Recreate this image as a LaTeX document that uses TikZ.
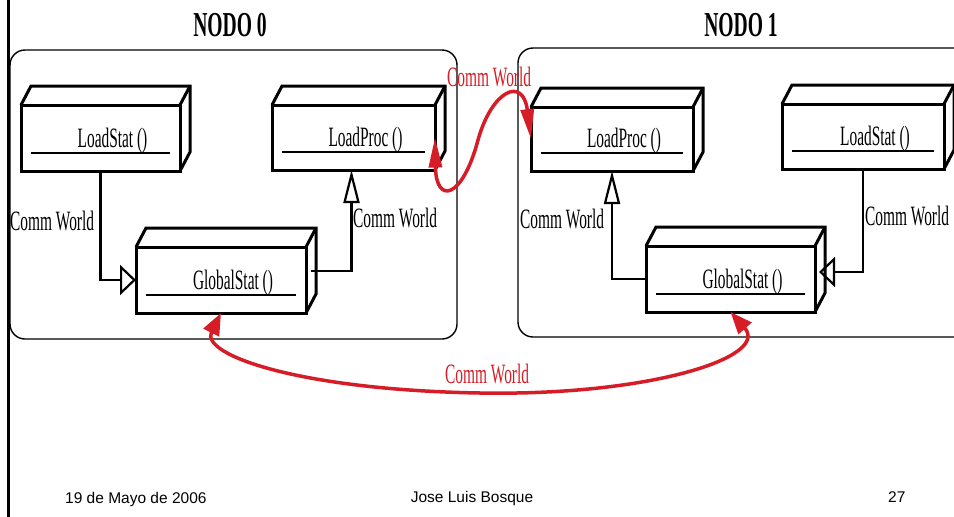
\documentclass[tikz,border=0pt]{standalone}
\usepackage{fontspec}
\setmainfont{Liberation Serif}
\newfontfamily\condfont[FakeStretch=0.55]{Liberation Serif}
\newfontfamily\titlefont[FakeStretch=0.56]{Liberation Serif}
\newfontfamily\footfont{Liberation Sans}
\usetikzlibrary{arrows.meta,calc}
\definecolor{redline}{RGB}{214,28,38}
\tikzset{
  boxfront/.style={draw, line width=3pt, inner sep=0pt, outer sep=0pt, fill=white},
  boxedge/.style={line width=3pt, line join=miter},
  uline/.style={line width=1.2pt},
  boxtext/.style={font=\condfont\fontsize{28}{30}\selectfont, inner sep=0pt, anchor=base},
  lbl/.style={font=\condfont\fontsize{28}{30}\selectfont, inner sep=0pt, anchor=base west},
  redlbl/.style={lbl, text=redline},
  titletext/.style={font=\titlefont\bfseries\fontsize{35}{38}\selectfont, inner sep=0pt, anchor=base},
  foot/.style={font=\footfont\fontsize{15.5}{17}\selectfont, inner sep=0pt, anchor=base west},
  panel/.style={draw, line width=1.4pt, rounded corners=15pt},
  conn/.style={line width=2.2pt},
  harrow/.style={conn, -{Triangle[open,length=16pt,width=30pt]}},
  varrow/.style={conn, -{Triangle[open,length=33pt,width=16pt]}},
  redconn/.style={draw=redline, line width=3.5pt},
  redtop/.style={redconn, {Triangle[length=30pt,width=13pt]}-{Triangle[length=30pt,width=13pt]}},
  redbot/.style={redconn, {Triangle[length=22pt,width=17pt]}-{Triangle[length=22pt,width=17pt]}},
}
\newcommand\mkbox[6]{%
  \node[boxfront, minimum width={(#4-#2)*1pt}, minimum height={(#5-#3)*1pt}] (#1) at ({(#2+#4)/2},{(#3+#5)/2}) {};
  \draw[boxedge] (#1.north west) -- ++(10,-19) -- ($(#1.north east)+(10,-19)$) -- ($(#1.south east)+(10,-19)$) -- (#1.south east);
  \draw[boxedge] (#1.north east) -- ++(10,-19);
  \draw[uline] ([xshift=10pt,yshift=18pt]#1.south west) -- ([xshift=-10pt,yshift=18pt]#1.south east);
  \node[boxtext] (#1-t) at ([xshift=12pt,yshift=24pt]#1.south) {#6};
}
\begin{document}
\begin{tikzpicture}[x=1pt,y=-1pt]
\useasboundingbox (0,0) rectangle (954,517);
\clip (0,0) rectangle (954,517);
\fill[white] (0,0) rectangle (954,517);
% slide left border
\draw[line width=3pt] (8,0) -- (8,517);
% titles
\node[titletext] (t0) at (230,36) {NODO 0};
\node[titletext] (t1) at (741,36) {NODO 1};
% panels
\draw[panel] (10,50) rectangle (457,339);
\draw[panel] (518,48) rectangle (980,337);
% boxes
\mkbox{ls0}{21}{105}{180}{171}{LoadStat ()}
\mkbox{lp0}{272}{105}{435}{170}{LoadProc ()}
\mkbox{gs0}{136}{247}{306}{313}{GlobalStat ()}
\mkbox{lp1}{531}{107}{693}{171}{LoadProc ()}
\mkbox{ls1}{782}{104}{944}{169}{LoadStat ()}
\mkbox{gs1}{646}{246}{815}{312}{GlobalStat ()}
% black connectors
\draw[harrow] (ls0.south) |- (gs0.west);
\draw[varrow] ([xshift=5pt,yshift=9pt]gs0.east) -| ([xshift=-2pt]lp0.south);
\draw[varrow] (gs1.west) -| (lp1.south);
\draw[harrow] (ls1.south) |- ([xshift=4pt,yshift=7pt]gs1.east);
\node[lbl] (c1) at (10,230) {Comm World};
\node[lbl] (c2) at (353,227) {Comm World};
\node[lbl] (c3) at (520,228) {Comm World};
\node[lbl] (c4) at (865,225) {Comm World};
% red connectors
\coordinate (rm) at (478,140);
\draw[redtop] (lp0.east) .. controls +(1,67) and +(-16,60) .. (rm) .. controls +(14,-50) and +(-8,-63) .. (lp1.west);
\node[redlbl] (r1) at (447,86) {Comm World};
\coordinate (mb) at (480,393);
\draw[redbot] (gs0.south) .. controls +(-21,42) and +(-180,-3) .. (mb) .. controls +(170,3) and +(40,45) .. (gs1.south);
\node[redlbl] (r2) at (445,383) {Comm World};
% footer
\node[foot] (f1) at (65,503) {19 de Mayo de 2006};
\node[foot, anchor=base] (f2) at (472,502) {Jose Luis Bosque};
\node[foot] (f3) at (888,502) {27};
\end{tikzpicture}
\end{document}
